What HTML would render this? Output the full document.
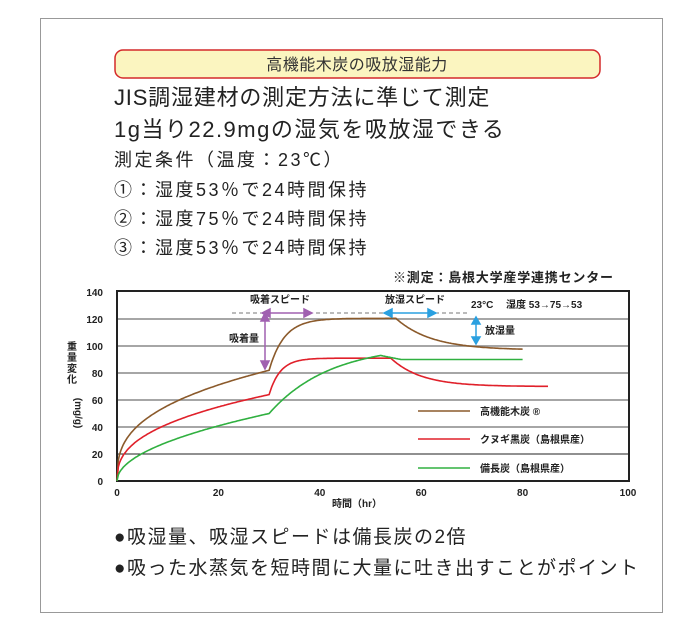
<!DOCTYPE html>
<html><head><meta charset="utf-8"><style>
html,body{margin:0;padding:0;background:#fff;}
svg{display:block;font-family:"Liberation Sans","Noto Sans CJK JP",sans-serif;}
</style></head><body>
<svg id="s" width="700" height="637" viewBox="0 0 700 637" xmlns="http://www.w3.org/2000/svg">
<rect x="40.5" y="18.5" width="622" height="594" fill="#fff" stroke="#999" stroke-width="1"/>
<rect x="115" y="50" width="485" height="28" rx="8" fill="#fbf5c0" stroke="#d42a2a" stroke-width="1.5"/>
<text x="357" y="70" font-size="16" text-anchor="middle" fill="#333" letter-spacing="0.5">高機能木炭の吸放湿能力</text>
<g fill="#222">
<text x="114" y="105" font-size="22" letter-spacing="0.8">JIS調湿建材の測定方法に準じて測定</text>
<text x="114" y="137" font-size="22" letter-spacing="1.5">1g当り22.9mgの湿気を吸放湿できる</text>
<text x="114" y="166" font-size="18" letter-spacing="2.5">測定条件（温度：23℃）</text>
<text x="114" y="196" font-size="18" letter-spacing="2.5">①：湿度53％で24時間保持</text>
<text x="114" y="225" font-size="18" letter-spacing="2.5">②：湿度75％で24時間保持</text>
<text x="114" y="254" font-size="18" letter-spacing="2.5">③：湿度53％で24時間保持</text>
<text x="393" y="282" font-size="13" font-weight="bold" letter-spacing="0.8">※測定：島根大学産学連携センター</text>
<text x="114" y="543" font-size="19" letter-spacing="1.5">●吸湿量、吸湿スピードは備長炭の2倍</text>
<text x="114" y="574" font-size="19" letter-spacing="1.5">●吸った水蒸気を短時間に大量に吐き出すことがポイント</text>
</g>
<g id="grid" stroke="#888" stroke-width="1.5"></g>
<rect x="117" y="291" width="512" height="190" fill="none" stroke="#222" stroke-width="2"/>
<g id="labels" font-size="10" font-weight="bold" fill="#222"></g>
<text x="357" y="507" font-size="10" font-weight="bold" text-anchor="middle" fill="#222">時間（hr）</text>
<g font-size="10" font-weight="bold" fill="#222" text-anchor="middle">
<text x="72" y="350">重</text><text x="72" y="361">量</text><text x="72" y="372">変</text><text x="72" y="383">化</text>
<text transform="translate(75,413) rotate(90)">(mg/g)</text>
</g>
<g id="curves" fill="none" stroke-width="1.6"></g>
<line x1="232" y1="313" x2="470" y2="313" stroke="#777" stroke-dasharray="4,3"/>
<g stroke="#a060b0" stroke-width="1.5" fill="#a060b0">
<line x1="268" y1="313" x2="306" y2="313"/><polygon points="262,313 270,309 270,317"/><polygon points="312,313 304,309 304,317"/>
<line x1="265" y1="318" x2="265" y2="364"/><polygon points="265,313 261,321 269,321"/><polygon points="265,369 261,361 269,361"/>
</g>
<g stroke="#2aa0e0" stroke-width="1.5" fill="#2aa0e0">
<line x1="390" y1="313" x2="430" y2="313"/><polygon points="384,313 392,309 392,317"/><polygon points="436,313 428,309 428,317"/>
<line x1="476" y1="322" x2="476" y2="339"/><polygon points="476,317 472,324 480,324"/><polygon points="476,344 472,337 480,337"/>
</g>
<g font-size="10" font-weight="bold" fill="#222">
<text x="250" y="303">吸着スピード</text>
<text x="229" y="342">吸着量</text>
<text x="385" y="303">放湿スピード</text>
<text x="471" y="308">23°C</text><text x="506" y="308">湿度 53→75→53</text>
<text x="485" y="334">放湿量</text>
<text x="480" y="415">高機能木炭 ®</text>
<text x="480" y="443">クヌギ黒炭（島根県産）</text>
<text x="480" y="472">備長炭（島根県産）</text>
</g>
<line x1="418" y1="411" x2="470" y2="411" stroke="#8b5a2b" stroke-width="1.6"/>
<line x1="418" y1="439" x2="470" y2="439" stroke="#e0202a" stroke-width="1.6"/>
<line x1="418" y1="468" x2="470" y2="468" stroke="#30b040" stroke-width="1.6"/>
<script>
var X=function(t){return 117+t*5.07},Y=function(v){return 481-v*1.35};
var g=document.getElementById('grid'),L=document.getElementById('labels'),ns='http://www.w3.org/2000/svg';
for(var v=0;v<=140;v+=20){var y=Y(v);if(v>0&&v<140){var l=document.createElementNS(ns,'line');l.setAttribute('x1',117);l.setAttribute('x2',629);l.setAttribute('y1',y);l.setAttribute('y2',y);if(v==20){l.setAttribute('stroke','#222');l.setAttribute('stroke-width','1');}g.appendChild(l);}
var t=document.createElementNS(ns,'text');t.setAttribute('x',103);t.setAttribute('y',y+4);t.setAttribute('text-anchor','end');t.textContent=v;L.appendChild(t);}
for(var h=0;h<=100;h+=20){var t=document.createElementNS(ns,'text');t.setAttribute('x',h==100?628:X(h));t.setAttribute('y',496);t.setAttribute('text-anchor','middle');t.textContent=h;L.appendChild(t);}
function path(f,t1,col){var d='';for(var t=0;t<=t1;t+=0.25){d+=(t?'L':'M')+X(t).toFixed(1)+','+Y(f(t)).toFixed(1);}var p=document.createElementNS(ns,'path');p.setAttribute('d',d);p.setAttribute('stroke',col);document.getElementById('curves').appendChild(p);}
path(function(t){if(t<=30)return 82*Math.pow(t/30,0.35);if(t<=55)return 82+38.5*(1-Math.exp(-(t-30)/3));var e=82+38.5*(1-Math.exp(-25/3));return 97+(e-97)*Math.exp(-(t-55)/7);},80,'#8b5a2b');
path(function(t){if(t<=30)return 64*Math.pow(t/30,0.38);if(t<=54)return 64+27*(1-Math.exp(-(t-30)/2.2));return 70+21*Math.exp(-(t-54)/6);},85,'#e0202a');
path(function(t){if(t<=30)return 50*Math.pow(t/30,0.5);if(t<=52)return 50+43*(1-Math.exp(-(t-30)/12))/(1-Math.exp(-22/12));if(t<=56)return 93-3*(t-52)/4;return 90;},80,'#30b040');
</script>
</svg>
</body></html>
